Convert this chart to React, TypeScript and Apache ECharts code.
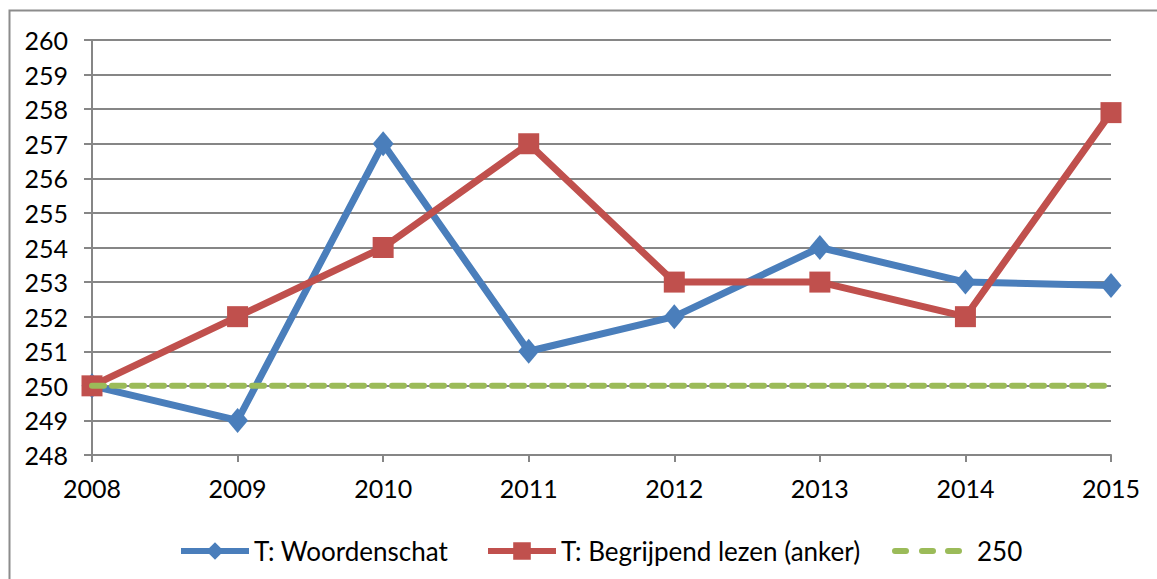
import React, { useEffect, useRef } from "react";
import * as echarts from "echarts";

const years = ["2008", "2009", "2010", "2011", "2012", "2013", "2014", "2015"];
const woordenschat = [250, 249, 257, 251, 252, 254, 253, 252.9];
const begrijpendLezen = [250, 252, 254, 257, 253, 253, 252, 257.9];
const referentie = [250, 250, 250, 250, 250, 250, 250, 250];
const seriesNames = ["T: Woordenschat", "T: Begrijpend lezen (anker)", "250"];

const FONT = "Lato";
const BLUE = "#4a7ebb";
const RED = "#c0504d";
const GREEN = "#9bbb59";

export default function App() {
  const ref = useRef<HTMLDivElement>(null);
  useEffect(() => {
    const chart = echarts.init(ref.current!, null, { renderer: "svg" });
    const legendText = { fontFamily: FONT, fontSize: 26, color: "#000" };
    chart.setOption({
      animation: false,
      backgroundColor: "#ffffff",
      graphic: [
        {
          type: "rect",
          shape: { x: 9.5, y: 10.5, width: 1160, height: 580 },
          style: { fill: "none", stroke: "#8c8c8c", lineWidth: 2 },
          silent: true,
          z: -1,
        },
      ],
      grid: { left: 92, right: 46, top: 40, bottom: 124, containLabel: false },
      legend: [
        {
          top: 533,
          left: 173,
          itemWidth: 68,
          itemHeight: 22,
          textStyle: legendText,
          lineStyle: { width: 6 },
          data: [{ name: seriesNames[0] }],
        },
        {
          top: 533,
          left: 480,
          itemWidth: 68,
          itemHeight: 22,
          textStyle: legendText,
          lineStyle: { width: 6 },
          data: [{ name: seriesNames[1] }],
        },
        {
          top: 533,
          left: 887,
          itemWidth: 70,
          itemHeight: 6,
          textStyle: { ...legendText, padding: [0, 0, 0, 10] },
          data: [
            {
              name: seriesNames[2],
              icon: "path://M3,0h11a3,3 0 0 1 0,6h-11a3,3 0 0 1 0,-6z M30,0h11a3,3 0 0 1 0,6h-11a3,3 0 0 1 0,-6z M56,0h11a3,3 0 0 1 0,6h-11a3,3 0 0 1 0,-6z",
            },
          ],
        },
      ],
      xAxis: {
        type: "category",
        data: years,
        boundaryGap: false,
        axisLine: { lineStyle: { color: "#868686", width: 2 } },
        axisTick: { show: true, length: 7, lineStyle: { color: "#868686", width: 2 } },
        axisLabel: { fontFamily: FONT, fontSize: 25, color: "#000", margin: 20 },
        splitLine: { show: false },
      },
      yAxis: {
        type: "value",
        min: 248,
        max: 260,
        interval: 1,
        axisLine: { show: true, lineStyle: { color: "#868686", width: 2 } },
        axisTick: { show: true, length: 8, lineStyle: { color: "#868686", width: 2 } },
        axisLabel: { fontFamily: FONT, fontSize: 25, color: "#000", margin: 24 },
        splitLine: { show: true, lineStyle: { color: "#868686", width: 2 } },
      },
      series: [
        {
          name: seriesNames[0],
          type: "line",
          data: woordenschat,
          symbol: "diamond",
          symbolSize: [21, 25],
          color: BLUE,
          lineStyle: { width: 7, color: BLUE },
          itemStyle: { color: BLUE },
          z: 3,
        },
        {
          name: seriesNames[1],
          type: "line",
          data: begrijpendLezen,
          symbol: "rect",
          symbolSize: 21,
          color: RED,
          lineStyle: { width: 7, color: RED },
          itemStyle: { color: RED },
          z: 4,
        },
        {
          name: seriesNames[2],
          type: "line",
          data: referentie,
          symbol: "none",
          color: GREEN,
          lineStyle: { width: 6, color: GREEN, type: [12, 8], cap: "round" },
          itemStyle: { color: GREEN },
          z: 5,
        },
      ],
    });
    return () => chart.dispose();
  }, []);
  return <div ref={ref} style={{ width: 1157, height: 579, position: "absolute", left: 0, top: 0 }} />;
}
